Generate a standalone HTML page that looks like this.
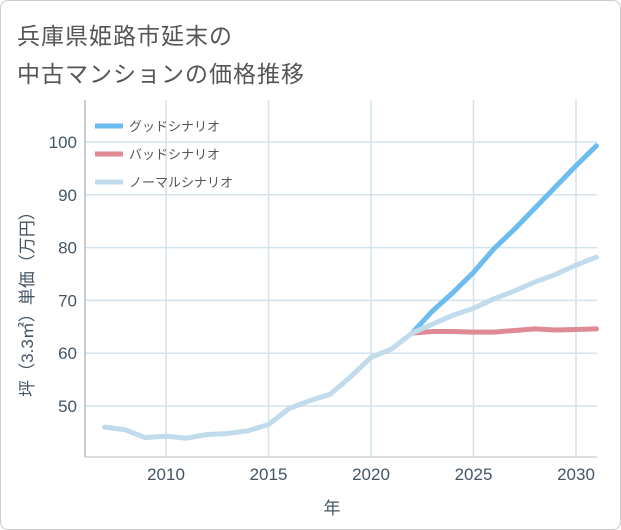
<!DOCTYPE html>
<html><head><meta charset="utf-8"><style>
body{margin:0;background:#fff;}
#wrap{position:relative;width:619px;height:528px;border:1px solid #ccc;border-radius:8px;background:#fff;font-family:"Liberation Sans","Noto Sans CJK JP",sans-serif;overflow:hidden}
.title{position:absolute;left:16px;font-size:23px;color:#555;letter-spacing:1px}
</style></head><body>
<div id="wrap">
<div class="title" style="top:16px">兵庫県姫路市延末の</div>
<div class="title" style="top:54px">中古マンションの価格推移</div>
<svg id="chart" width="621" height="530" style="position:absolute;left:-1px;top:-1px"></svg>
</div>
<script>
const years=[2007,2008,2009,2010,2011,2012,2013,2014,2015,2016,2017,2018,2019,2020,2021,2022,2023,2024,2025,2026,2027,2028,2029,2030,2031];
const normalVals=[46,45.5,44,44.3,43.9,44.6,44.8,45.3,46.5,49.5,51,52.2,55.5,59.2,60.8,63.8,65.5,67.2,68.5,70.3,71.8,73.5,74.9,76.7,78.2];
const futureYears=[2022,2023,2024,2025,2026,2027,2028,2029,2030,2031];
const goodVals=[63.8,68,71.5,75.3,79.8,83.5,87.5,91.5,95.5,99.3];
const badVals=[63.8,64.1,64.1,64.0,64.0,64.3,64.6,64.4,64.5,64.6];
const xTicks=[2010,2015,2020,2025,2030];
const yTicks=[50,60,70,80,90,100];
const legendLabels=["グッドシナリオ","バッドシナリオ","ノーマルシナリオ"];
const NS="http://www.w3.org/2000/svg";
const svg=document.getElementById('chart');
const L=85,R=597,T=100,B=457;
const xs=y=>166+(y-2010)*(576-166)/20;
const ys=v=>142+(100-v)*(406-142)/50;
function mk(tag,attrs,parent){const e=document.createElementNS(NS,tag);for(const k in attrs)e.setAttribute(k,attrs[k]);(parent||svg).appendChild(e);return e;}
for(const t of xTicks){
 const g=mk('line',{x1:xs(t),x2:xs(t),y1:T,y2:B,stroke:'#d3e3ee','stroke-width':1.5});
 
 
 const tx=mk('text',{x:xs(t),y:480,'text-anchor':'middle','font-size':17,fill:'#445566'});
 tx.textContent=t;
 
 
}
for(const t of yTicks){
 const g=mk('line',{x1:L,x2:R,y1:ys(t),y2:ys(t),stroke:'#d3e3ee','stroke-width':1.5});
 
 
 const tx=mk('text',{x:77,y:ys(t)+6,'text-anchor':'end','font-size':17,fill:'#445566'});
 tx.textContent=t;
 
 
}
const ax=mk('line',{x1:L,x2:L,y1:T,y2:B,stroke:'#999','stroke-width':1});


const ax2=mk('line',{x1:L,x2:R,y1:B,y2:B,stroke:'#bbb','stroke-width':1});


function line(xv,yv,color,name){
 const p=mk('polyline',{points:xv.map((x,i)=>xs(x)+','+ys(yv[i])).join(' '),fill:'none',stroke:color,'stroke-width':5,'stroke-linejoin':'round','stroke-linecap':'round'});
 
 
}
line(futureYears,goodVals,'#6cbcf0','good-scenario-line');
line(futureYears,badVals,'#e08a93','bad-scenario-line');
line(years,normalVals,'#c0dcec','normal-scenario-line');
const lc=['#6cbcf0','#e08a93','#c0dcec'];
legendLabels.forEach((lab,i)=>{
 const y=126+i*28;
 const l=mk('line',{x1:95,x2:123,y1:y,y2:y,stroke:lc[i],'stroke-width':5});
 
 
 const t=mk('text',{x:129,y:y+5,'font-size':13,fill:'#555'});
 t.textContent=lab;
 
 
});
const xt=mk('text',{x:332,y:514,'text-anchor':'middle','font-size':17,fill:'#445566'});
xt.textContent='年';


const yt=mk('text',{x:0,y:0,'text-anchor':'middle','font-size':17,fill:'#445566',transform:'translate(33,300) rotate(-90)'});
yt.textContent='坪（3.3㎡）単価（万円）';


</script>
</body></html>
